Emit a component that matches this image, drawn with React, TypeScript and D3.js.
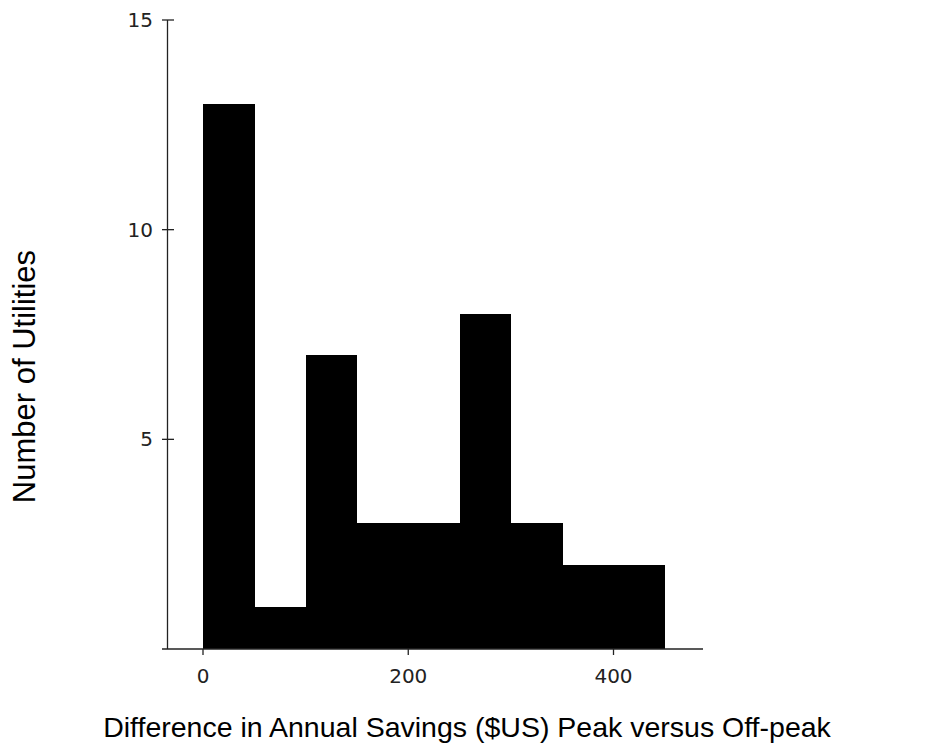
import React from "react";
import * as d3 from "d3";

const binStarts = [0, 50, 100, 150, 200, 250, 300, 350, 400];
const binWidth = 50;
const counts = [13, 1, 7, 3, 3, 8, 3, 2, 2];
const xTicks = [0, 200, 400];
const yTicks = [5, 10, 15];
const xTitle = "Difference in Annual Savings ($US) Peak versus Off-peak";
const yTitle = "Number of Utilities";

export default function App() {
  const W = 925, H = 749;
  const x = d3.scaleLinear().domain([0, 400]).range([203, 613.5]);
  const y = d3.scaleLinear().domain([0, 15]).range([649, 20]);
  const axisX = 167.5;
  const axisY = 649;
  const tickFont = "'DejaVu Sans', Verdana, sans-serif";
  const titleFont = "'Liberation Sans', Arial, sans-serif";
  return (
    <svg width={W} height={H} style={{ position: "absolute", left: 0, top: 0 }}>
      <rect width={W} height={H} fill="#fff" />
      {binStarts.map((b, i) => (
        <rect key={i} x={x(b)} y={y(counts[i])} width={x(b + binWidth) - x(b) + 0.5} height={axisY - y(counts[i])} fill="#000" shapeRendering="crispEdges" />
      ))}
      <line x1={axisX} x2={axisX} y1={y(15)} y2={axisY} stroke="#222" strokeWidth={1.3} />
      <line x1={162} x2={703} y1={axisY} y2={axisY} stroke="#222" strokeWidth={1.3} />
      {yTicks.map(t => (
        <g key={t}>
          <line x1={162} x2={174} y1={y(t)} y2={y(t)} stroke="#222" strokeWidth={1.3} />
          <text x={153} y={y(t)} dy="0.35em" textAnchor="end" fontFamily={tickFont} fontSize={20} fill="#222">{t}</text>
        </g>
      ))}
      {xTicks.map(t => (
        <g key={t}>
          <line x1={x(t)} x2={x(t)} y1={axisY} y2={axisY + 6} stroke="#222" strokeWidth={1.3} />
          <text x={x(t)} y={676} dy="0.35em" textAnchor="middle" fontFamily={tickFont} fontSize={20} fill="#222">{t}</text>
        </g>
      ))}
      <text x={467} y={737} textAnchor="middle" fontFamily={titleFont} fontSize={28.5} fill="#000">{xTitle}</text>
      <text transform={`translate(35,376.5) rotate(-90)`} textAnchor="middle" fontFamily={titleFont} fontSize={31} fill="#000">{yTitle}</text>
    </svg>
  );
}
